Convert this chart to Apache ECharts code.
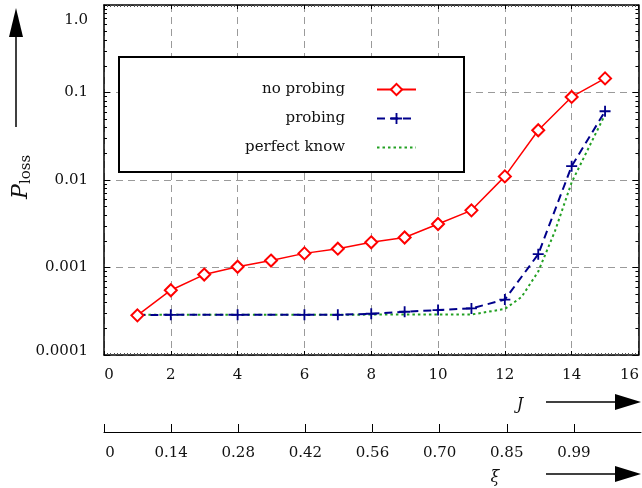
<!DOCTYPE html>
<html><head><meta charset="utf-8">
<script src="https://cdn.jsdelivr.net/npm/echarts@6/dist/echarts.min.js"></script>
<style>html,body{margin:0;padding:0;background:#fff}#c{width:642px;height:488px}</style>
</head><body><div id="c"></div>
<script>
// ---- data ----
const jNoProbing = [1,2,3,4,5,6,7,8,9,10,11,12,13,14,15];
const noProbing  = [2.84e-4,5.5e-4,8.3e-4,1.02e-3,1.2e-3,1.45e-3,1.64e-3,1.94e-3,2.2e-3,3.14e-3,4.5e-3,1.1e-2,3.7e-2,8.9e-2,0.145];
const jProbing   = [1,2,4,6,7,8,9,10,11,12,13,14,15];
const probing    = [2.86e-4,2.88e-4,2.88e-4,2.88e-4,2.88e-4,2.96e-4,3.12e-4,3.26e-4,3.41e-4,4.3e-4,1.42e-3,1.44e-2,6.1e-2];
const jPerfect   = [1,11,12,12.5,13,13.5,14,15];
const perfect    = [2.88e-4,2.9e-4,3.36e-4,4.6e-4,9.0e-4,2.6e-3,9.4e-3,5.6e-2];
const jTicks     = [0,2,4,6,8,10,12,14,16];
const xiTicks    = [0,2,4,6,8,10,12,14];
const xiLabels   = ['0','0.14','0.28','0.42','0.56','0.70','0.85','0.99'];
const yTickLabels = ['0.0001','0.001','0.01','0.1','1.0'];
const legendNames = ['no probing','probing','perfect know'];

// ---- styling ----
const FONT = 'DejaVu Serif';
const TXT = '#111';
const GRIDC = '#9a9a9a';
const minorY = [];
for (let d = -4; d <= -1; d++) for (let m = 2; m <= 9; m++) minorY.push(+(m * Math.pow(10, d)).toPrecision(3));

const pair = (xs, ys) => xs.map((x, i) => [x, ys[i]]);
const plusPath = 'path://M-1,-6 L1,-6 L1,-1 L6,-1 L6,1 L1,1 L1,6 L-1,6 L-1,1 L-6,1 L-6,-1 L-1,-1 Z';

const grid0 = {left:104, top:5, width:537, height:350};
const dashSplit = {show:true, lineStyle:{color:GRIDC, type:[7,5], width:1}};

const option = {
  animation:false,
  backgroundColor:'#fff',
  grid:[grid0, {left:104, top:400, width:537, height:32}],
  xAxis:[
    {gridIndex:0, type:'value', min:0, max:16, interval:2, position:'bottom',
     axisLine:{show:true, onZero:false, lineStyle:{color:'#000', width:1.5}},
     axisTick:{show:true, inside:true, length:4, lineStyle:{color:'#000'}},
     minorTick:{show:true, splitNumber:20, length:2, lineStyle:{color:'#555'}},
     splitLine:dashSplit,
     axisLabel:{margin:13, color:TXT, fontFamily:FONT, fontSize:15,
       formatter:(v)=>{const s=String(jTicks[Math.round(v/2)]); if(v===0) return '{l|'+s+'}'; if(v===16) return '{r|'+s+'}'; return s;},
       rich:{l:{padding:[0,0,0,10], fontFamily:FONT, fontSize:15, color:TXT}, r:{padding:[0,18,0,0], fontFamily:FONT, fontSize:15, color:TXT}}}},
    {gridIndex:0, type:'value', min:0, max:16, interval:2, position:'top',
     axisLine:{show:true, onZero:false, lineStyle:{color:'#000', width:1.5}},
     axisTick:{show:true, inside:true, length:4, lineStyle:{color:'#000'}},
     minorTick:{show:true, splitNumber:20, length:2, lineStyle:{color:'#555'}},
     splitLine:{show:false}, axisLabel:{show:false}},
    {gridIndex:1, type:'value', min:0, max:16, interval:2, position:'bottom',
     axisLine:{show:true, onZero:false, lineStyle:{color:'#000', width:1}},
     axisTick:{show:true, inside:true, length:8, customValues:xiTicks, lineStyle:{color:'#000'}},
     splitLine:{show:false},
     axisLabel:{margin:14, color:TXT, fontFamily:FONT, fontSize:15, customValues:xiTicks,
       formatter:(v)=>{const s=xiLabels[Math.round(v/2)]; return v===0 ? '{l|'+s+'}' : s;},
       rich:{l:{padding:[0,0,0,12], fontFamily:FONT, fontSize:15, color:TXT}}}}
  ],
  yAxis:[
    {gridIndex:0, type:'log', logBase:10, min:1e-4, max:1, position:'left',
     axisLine:{show:true, lineStyle:{color:'#000', width:1.5}},
     axisTick:{show:true, inside:true, length:6, lineStyle:{color:'#000'}},
     splitLine:dashSplit,
     axisLabel:{margin:16, color:TXT, fontFamily:FONT, fontSize:15,
       formatter:(v)=>{const i=Math.round(Math.log10(v))+4; const s=yTickLabels[i]; if(i===4) return '{t|'+s+'}'; if(i===0) return '{b|'+s+'}'; return s;},
       rich:{t:{padding:[30,0,0,0], fontFamily:FONT, fontSize:15, color:TXT}, b:{padding:[0,0,7,0], fontFamily:FONT, fontSize:15, color:TXT}}}},
    {gridIndex:0, type:'log', logBase:10, min:1e-4, max:1, position:'left',
     axisLine:{show:false}, splitLine:{show:false}, axisLabel:{show:false},
     axisTick:{show:true, inside:true, length:3, customValues:minorY, lineStyle:{color:'#000'}}},
    {gridIndex:0, type:'log', logBase:10, min:1e-4, max:1, position:'right',
     axisLine:{show:true, lineStyle:{color:'#000', width:1.5}}, splitLine:{show:false}, axisLabel:{show:false},
     axisTick:{show:true, inside:true, length:6, lineStyle:{color:'#000'}}},
    {gridIndex:0, type:'log', logBase:10, min:1e-4, max:1, position:'right',
     axisLine:{show:false}, splitLine:{show:false}, axisLabel:{show:false},
     axisTick:{show:true, inside:true, length:3, customValues:minorY, lineStyle:{color:'#000'}}},
    {gridIndex:1, type:'value', show:false, min:0, max:1}
  ],
  legend:{
    show:true, orient:'vertical', align:'right', right:226, top:77,
    itemWidth:39, itemHeight:14, itemGap:14, z:10,
    data:[
      {name:legendNames[0]},
      {name:legendNames[1]},
      {name:legendNames[2], itemStyle:{opacity:0}}
    ],
    textStyle:{fontFamily:FONT, fontSize:15, color:TXT, padding:[0,27,0,0]}
  },
  graphic:[
    {type:'rect', z:3, shape:{x:119, y:57, width:345, height:115}, style:{fill:'#fff', stroke:'#000', lineWidth:2}},
    // y-axis title arrow
    {type:'line', shape:{x1:16, y1:127, x2:16, y2:34}, style:{stroke:'#000', lineWidth:1.5}},
    {type:'polygon', shape:{points:[[16,8],[9,37],[23,37]]}, style:{fill:'#000'}},
    {type:'group', x:21, y:199, rotation:Math.PI/2, children:[
      {type:'text', x:0, y:0, style:{text:'P', font:'italic 22px "DejaVu Serif"', fill:TXT, textAlign:'left', textVerticalAlign:'middle'}},
      {type:'text', x:15, y:5, style:{text:'loss', font:'15px "DejaVu Serif"', fill:TXT, textAlign:'left', textVerticalAlign:'middle'}}
    ]},
    // J arrow
    {type:'text', x:520, y:405, style:{text:'J', font:'italic 16px "DejaVu Serif"', fill:TXT, textAlign:'center', textVerticalAlign:'middle'}},
    {type:'line', shape:{x1:546, y1:402, x2:620, y2:402}, style:{stroke:'#000', lineWidth:1.5}},
    {type:'polygon', shape:{points:[[641,402],[615,394],[615,410]]}, style:{fill:'#000'}},
    // xi arrow
    {type:'text', x:495, y:478, style:{text:'ξ', font:'italic 16px "DejaVu Serif"', fill:TXT, textAlign:'center', textVerticalAlign:'middle'}},
    {type:'line', shape:{x1:546, y1:474, x2:620, y2:474}, style:{stroke:'#000', lineWidth:1.5}},
    {type:'polygon', shape:{points:[[641,474],[615,466],[615,482]]}, style:{fill:'#000'}}
  ],
  series:[
    {name:legendNames[0], type:'line', xAxisIndex:0, yAxisIndex:0, data:pair(jNoProbing, noProbing),
     symbol:'emptyDiamond', symbolSize:12, z:4,
     itemStyle:{color:'#ff0000', borderWidth:1.5}, lineStyle:{color:'#ff0000', width:1.5}},
    {name:legendNames[1], type:'line', xAxisIndex:0, yAxisIndex:0, data:pair(jProbing, probing),
     symbol:plusPath, symbolSize:11, z:3,
     itemStyle:{color:'#00008b'}, lineStyle:{color:'#00008b', width:2, type:[8,5]}},
    {name:legendNames[2], type:'line', xAxisIndex:0, yAxisIndex:0, data:pair(jPerfect, perfect),
     symbol:'none', z:2,
     itemStyle:{color:'#22a022'}, lineStyle:{color:'#22a022', width:2, type:[2.5,3]}}
  ]
};
option.legend.right = 220;
const chart = echarts.init(document.getElementById('c'), null, {renderer:'canvas'});
chart.setOption(option);
</script>
</body></html>
